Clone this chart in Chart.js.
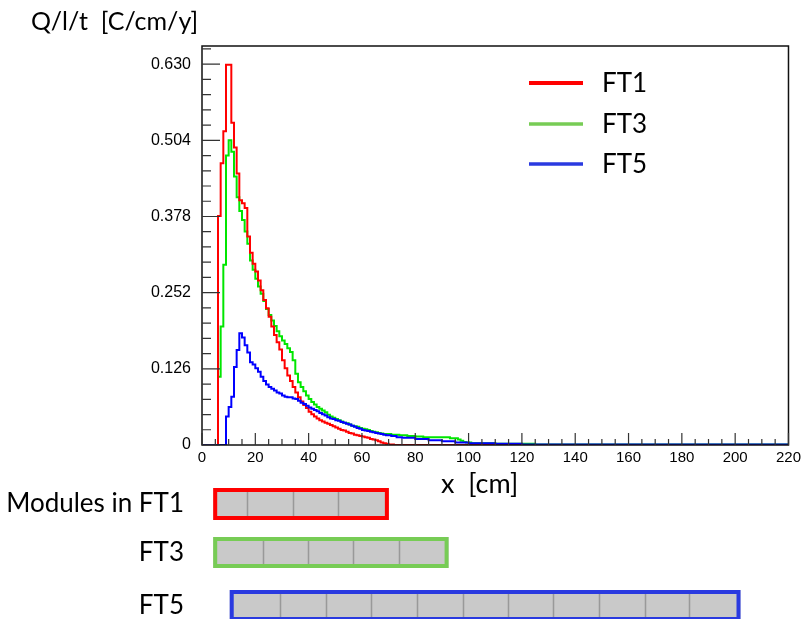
<!DOCTYPE html>
<html>
<head>
<meta charset="utf-8">
<title>Q/l/t in FT1, FT3, FT5</title>
<script src="https://cdn.jsdelivr.net/npm/chart.js@4.4.0/dist/chart.umd.min.js"></script>
<style>
body { margin: 0; background: #fff; }
#wrap { width: 805px; height: 619px; }
</style>
</head>
<body>
<div id="wrap"><canvas id="myCanvas" width="805" height="619"></canvas></div>
<script>
// histogram contents: left bin edge [cm] and Q/l/t [C/cm/y]
var ft1X = [0, 6, 7, 8, 9, 11, 12, 13, 14, 15, 16, 17, 18, 19, 20, 21, 22, 23, 24, 25, 26, 27, 28, 29, 30, 31,
  32, 33, 34, 35, 36, 37, 38, 39, 40, 41, 42, 43, 44, 45, 46, 47, 48, 49, 50, 51, 52, 53, 54, 55, 56, 57, 58,
  59, 60, 61, 62, 63, 64, 65, 66, 67, 68, 69, 70, 72, 220];
var ft1Y = [0, 0.379, 0.466, 0.519, 0.629, 0.533, 0.492, 0.449, 0.405, 0.400, 0.392, 0.345, 0.318, 0.300, 0.287,
  0.272, 0.256, 0.240, 0.226, 0.212, 0.196, 0.182, 0.170, 0.158, 0.140, 0.127, 0.115, 0.106, 0.096, 0.087,
  0.079, 0.072, 0.066, 0.061, 0.055, 0.051, 0.047, 0.044, 0.041, 0.039, 0.037, 0.035, 0.033, 0.031, 0.029,
  0.027, 0.025, 0.024, 0.022, 0.020, 0.019, 0.017, 0.016, 0.015, 0.014, 0.013, 0.012, 0.010, 0.009, 0.008,
  0.006, 0.004, 0.003, 0.002, 0.001, 0, 0];

var ft3X = [0, 6, 7, 8, 9, 10, 11, 12, 13, 14, 15, 16, 17, 18, 19, 20, 21, 22, 23, 24, 25, 26, 27, 28, 29, 30,
  31, 32, 33, 34, 35, 36, 37, 38, 39, 40, 41, 42, 43, 44, 45, 46, 47, 48, 49, 50, 51, 52, 53, 54, 55, 56, 57,
  58, 59, 60, 61, 62, 63, 64, 65, 66, 67, 68, 71, 74, 77, 80, 83, 93, 96, 97, 98, 99, 101, 110, 125, 220];
var ft3Y = [0, 0.113, 0.196, 0.298, 0.479, 0.504, 0.485, 0.444, 0.410, 0.387, 0.372, 0.353, 0.333, 0.305,
  0.290, 0.275, 0.262, 0.250, 0.238, 0.225, 0.215, 0.206, 0.197, 0.188, 0.180, 0.173, 0.167, 0.160, 0.154,
  0.140, 0.118, 0.104, 0.096, 0.089, 0.082, 0.076, 0.071, 0.067, 0.063, 0.060, 0.057, 0.054, 0.050, 0.047,
  0.045, 0.043, 0.041, 0.039, 0.037, 0.036, 0.034, 0.032, 0.031, 0.030, 0.028, 0.027, 0.026, 0.025, 0.023,
  0.022, 0.021, 0.020, 0.019, 0.018, 0.017, 0.016, 0.015, 0.014, 0.013, 0.011, 0.009, 0.007, 0.005, 0.004,
  0.003, 0.002, 0.001, 0.001];

var ft5X = [0, 9, 10, 11, 12, 13, 14, 15, 16, 17, 18, 19, 20, 21, 22, 23, 24, 25, 26, 27, 28, 29, 30, 31, 32,
  33, 34, 35, 36, 37, 38, 39, 40, 41, 42, 43, 44, 45, 46, 47, 48, 49, 50, 51, 52, 53, 54, 55, 56, 57, 58, 59,
  60, 61, 62, 63, 64, 65, 66, 67, 68, 69, 71, 73, 75, 80, 85, 90, 95, 100, 110, 120, 220];
var ft5Y = [0, 0.047, 0.063, 0.080, 0.129, 0.157, 0.185, 0.178, 0.165, 0.153, 0.137, 0.133, 0.127, 0.121,
  0.113, 0.106, 0.100, 0.096, 0.093, 0.090, 0.087, 0.085, 0.082, 0.080, 0.079, 0.079, 0.077, 0.076, 0.073,
  0.070, 0.068, 0.065, 0.062, 0.060, 0.058, 0.056, 0.053, 0.051, 0.049, 0.046, 0.044, 0.043, 0.041, 0.040,
  0.038, 0.037, 0.035, 0.034, 0.032, 0.030, 0.028, 0.027, 0.025, 0.024, 0.023, 0.022, 0.021, 0.020, 0.019,
  0.018, 0.017, 0.016, 0.015, 0.013, 0.012, 0.010, 0.008, 0.006, 0.004, 0.003, 0.002, 0.001, 0.001];

var seriesNames = ['FT1', 'FT3', 'FT5'];
var xTicks = [0, 20, 40, 60, 80, 100, 120, 140, 160, 180, 200, 220];
var yTicks = [0, 0.126, 0.252, 0.378, 0.504, 0.630];

// module boundaries along x [cm]
var ft1Modules = [4.2, 16.7, 34.1, 51.2, 70.1];
var ft3Modules = [4.2, 22.9, 39.9, 56.8, 73.9, 92.5];
var ft5Modules = [10.4, 29.1, 46.6, 63.4, 80.6, 97.8, 114.6, 131.7, 148.9, 166, 182.8, 202];

var lineColors = ['#ff0000', '#00e600', '#0000ff'];
var legendColors = ['#ff0000', '#77cc55', '#2a3ae0'];
var textFont = 'Lato, "Open Sans", sans-serif';

function toPoints(xs, ys) {
  return xs.map(function(x, i) { return {x: x, y: ys[i]}; });
}

// frame + ROOT-style inward ticks
var frameTicks = {
  id: 'frameTicks',
  afterDraw: function(chart) {
    var ctx = chart.ctx, a = chart.chartArea;
    var xs = chart.scales.x, ys = chart.scales.y;
    ctx.save();
    ctx.strokeStyle = '#111';
    ctx.lineWidth = 1.5;
    ctx.strokeRect(a.left, a.top, a.right - a.left, a.bottom - a.top);
    ctx.lineWidth = 1.2;
    ctx.strokeStyle = '#333';
    ctx.beginPath();
    for (var i = 0; i <= 26; i++) {
      var py = ys.getPixelForValue(i * 0.0252);
      var len = (i % 5 === 0) ? 18 : 9;
      ctx.moveTo(a.left, py); ctx.lineTo(a.left + len, py);
    }
    for (var j = 0; j <= 44; j++) {
      var px = xs.getPixelForValue(j * 5);
      var l2 = (j % 4 === 0) ? 12 : 6;
      ctx.moveTo(px, a.bottom); ctx.lineTo(px, a.bottom - l2);
    }
    ctx.stroke();

    // axis titles
    ctx.fillStyle = '#000';
    ctx.textBaseline = 'alphabetic';
    ctx.textAlign = 'left';
    ctx.font = '25px ' + textFont;
    ctx.fillText('Q/l/t  [C/cm/y]', 31, 30);
    ctx.font = '27px ' + textFont;
    ctx.fillText('x  [cm]', 441, 493);

    // legend
    ctx.font = '26px ' + textFont;
    chart.data.datasets.forEach(function(ds, k) {
      var ly = [83, 124, 164][k];
      ctx.strokeStyle = legendColors[k];
      ctx.lineWidth = k === 0 ? 4 : 3.5;
      ctx.beginPath();
      ctx.moveTo(529, ly); ctx.lineTo(583, ly);
      ctx.stroke();
      ctx.textBaseline = 'middle';
      ctx.fillText(ds.label, 602, ly + 1);
    });
    ctx.restore();
  }
};

// module rows below the x axis, placed with the x scale
var moduleRows = {
  id: 'moduleRows',
  afterDraw: function(chart) {
    var ctx = chart.ctx, xs = chart.scales.x;
    var rows = [
      {label: 'Modules in FT1', edges: ft1Modules, color: legendColors[0], top: 488, h: 32},
      {label: 'FT3', edges: ft3Modules, color: legendColors[1], top: 537, h: 31},
      {label: 'FT5', edges: ft5Modules, color: legendColors[2], top: 590, h: 31}
    ];
    ctx.save();
    rows.forEach(function(r) {
      var x0 = xs.getPixelForValue(r.edges[0]);
      var x1 = xs.getPixelForValue(r.edges[r.edges.length - 1]);
      ctx.fillStyle = '#c9c9c9';
      ctx.fillRect(x0, r.top, x1 - x0, r.h);
      ctx.strokeStyle = '#999';
      ctx.lineWidth = 1.5;
      ctx.beginPath();
      for (var i = 1; i < r.edges.length - 1; i++) {
        var px = Math.round(xs.getPixelForValue(r.edges[i])) + 0.5;
        ctx.moveTo(px, r.top); ctx.lineTo(px, r.top + r.h);
      }
      ctx.stroke();
      ctx.strokeStyle = r.color;
      ctx.lineWidth = 4;
      ctx.strokeRect(x0 + 2, r.top + 2, x1 - x0 - 4, r.h - 4);
      ctx.fillStyle = '#000';
      ctx.font = '26px ' + textFont;
      ctx.textAlign = 'right';
      ctx.textBaseline = 'middle';
      ctx.fillText(r.label, 184, r.top + r.h / 2);
    });
    ctx.restore();
  }
};

var seriesX = [ft1X, ft3X, ft5X];
var seriesY = [ft1Y, ft3Y, ft5Y];
var drawOrder = [1, 2, 0];

var datasets = seriesNames.map(function(name, k) {
  return {
    label: name,
    data: toPoints(seriesX[k], seriesY[k]),
    borderColor: lineColors[k],
    borderWidth: 2,
    stepped: 'before',
    pointRadius: 0,
    fill: false,
    order: drawOrder[k]
  };
});

var xTickFont = {family: '"Liberation Sans", Arial, sans-serif', size: 15};
var yTickFont = {family: '"Liberation Sans", Arial, sans-serif', size: 16};

new Chart(document.getElementById('myCanvas'), {
  type: 'line',
  data: {datasets: datasets},
  options: {
    responsive: false,
    animation: false,
    layout: {padding: {left: 0, right: 14, top: 46, bottom: 0}},
    plugins: {legend: {display: false}, tooltip: {enabled: false}},
    scales: {
      x: {
        type: 'linear', min: 0, max: 220,
        grid: {display: false, drawTicks: false},
        border: {display: false},
        afterBuildTicks: function(s) { s.ticks = xTicks.map(function(v) { return {value: v}; }); },
        afterFit: function(s) { s.height = 174; },
        ticks: {padding: 4, maxRotation: 0, autoSkip: false, color: '#000', font: xTickFont,
          callback: function(v) { return String(v); }}
      },
      y: {
        min: 0, max: 0.66,
        grid: {display: false, drawTicks: false},
        border: {display: false},
        afterBuildTicks: function(s) { s.ticks = yTicks.map(function(v) { return {value: v}; }); },
        afterFit: function(s) { s.width = 202; },
        ticks: {padding: 11, autoSkip: false, color: '#000', font: yTickFont,
          callback: function(v) { return v === 0 ? '0' : v.toFixed(3); }}
      }
    }
  },
  plugins: [frameTicks, moduleRows]
});
</script>
</body>
</html>
